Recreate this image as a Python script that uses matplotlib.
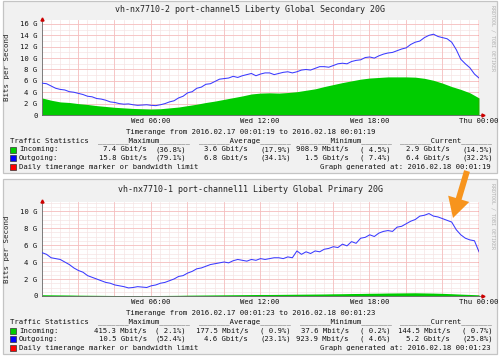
import numpy as np
import matplotlib
matplotlib.use("Agg")
import matplotlib.pyplot as plt
from matplotlib.patches import Rectangle, FancyArrow

# ---------------- data (Gbit/s, measured from 00:01:19) ----------------
hours_half = np.arange(0, 24.01, 0.5)      # incoming samples
hours_quarter = np.arange(0, 24.01, 0.25)  # outgoing samples

sec_in = [3.0, 2.6, 2.3, 2.2, 2.0, 1.85, 1.65, 1.5, 1.35, 1.25, 1.15, 1.1, 1.05,
          1.1, 1.25, 1.4, 1.65, 1.9, 2.2, 2.45, 2.75, 3.05, 3.35, 3.7, 3.85, 3.9,
          3.85, 3.95, 4.1, 4.35, 4.6, 5.0, 5.35, 5.7, 6.0, 6.3, 6.5, 6.6, 6.7, 6.7,
          6.7, 6.65, 6.45, 6.1, 5.6, 5.0, 4.5, 3.9, 3.0]
sec_out = [5.6, 5.5, 5.1, 4.7,  4.5, 4.4, 4.1, 4.0,  3.8, 3.6, 3.3, 3.2,
           2.9, 2.8, 2.6, 2.3,  2.2, 2.0, 1.9, 1.95, 1.8, 1.7, 1.75, 1.8,
           1.7, 1.65, 1.8, 2.0, 2.3, 2.5, 3.0, 3.3,  3.9, 4.1, 4.7, 4.9,
           5.4, 5.5, 5.9, 6.3,  6.4, 6.5, 6.8, 6.6,  6.9, 7.1, 7.3, 6.9,
           7.2, 7.4, 7.4, 7.1,  7.3, 7.5, 7.6, 7.4,  7.6, 7.9, 8.0, 7.9,
           8.2, 8.5, 8.5, 8.4,  8.7, 9.0, 9.1, 9.0,  9.4, 9.6, 9.7, 10.1,
           10.2, 10.0, 10.4, 10.7, 10.9, 11.0, 11.3, 11.6, 11.8, 12.4, 12.8, 13.0,
           13.6, 14.0, 14.2, 13.8, 13.6, 13.4, 12.8, 11.5, 9.8, 9.0, 8.3, 7.2,
           6.5]
pri_in = [0.15, 0.14, 0.13, 0.12, 0.10, 0.09, 0.08, 0.07, 0.06, 0.05, 0.05, 0.05,
          0.05, 0.06, 0.07, 0.08, 0.10, 0.11, 0.12, 0.13, 0.14, 0.15, 0.16, 0.17,
          0.18, 0.18, 0.19, 0.20, 0.21, 0.22, 0.23, 0.24, 0.26, 0.27, 0.29, 0.30,
          0.32, 0.33, 0.35, 0.36, 0.37, 0.38, 0.36, 0.34, 0.31, 0.27, 0.22, 0.18, 0.14]
pri_out = [5.1, 4.9, 4.5, 4.4,  4.3, 4.0, 3.7, 3.3,  3.0, 2.8, 2.4, 2.2,
           2.0, 1.8, 1.6, 1.5,  1.3, 1.2, 1.1, 0.95, 1.0, 1.1, 1.05, 1.0,
           1.2, 1.3, 1.5, 1.6,  1.8, 2.0, 2.3, 2.4,  2.7, 2.9, 3.2, 3.3,
           3.5, 3.7, 3.8, 3.9,  4.0, 3.9, 4.15, 4.3, 4.2, 4.1, 4.3, 4.2,
           4.4, 4.3, 4.4, 4.5,  4.5, 4.4, 4.6, 4.5,  5.3, 4.9, 5.2, 5.0,
           5.3, 5.2, 5.5, 5.6,  5.8, 5.7, 6.1, 5.9,  6.4, 6.2, 6.8, 6.9,
           7.2, 7.0, 7.4, 7.6,  7.7, 7.6, 8.1, 8.2,  8.5, 8.8, 9.0, 9.4,
           9.5, 9.7, 9.4, 9.3,  9.1, 8.9, 8.7, 7.8,  7.2, 6.8, 6.6, 6.5,
           5.2]

xtick_labels = ["Wed 06:00", "Wed 12:00", "Wed 18:00", "Thu 00:00"]
start_offset = 1/60 + 19/3600  # data start 00:01:19

panels = [
    dict(title="vh-nx7710-2 port-channel5 Liberty Global Secondary 20G",
         inc=sec_in, out=sec_out, ymax=16.7, ystep=2, yminor=1,
         box=(1, 173), title_y=10, plot=(20, 115),
         timerange="Timerange from 2016.02.17 00:01:19 to 2016.02.18 00:01:19",
         generated="Graph generated at: 2016.02.18 00:01:19",
         inc_stats=["7.4 Gbit/s", "(36.8%)", "3.6 Gbit/s", "(17.9%)",
                    "908.9 Mbit/s", "( 4.5%)", "2.9 Gbit/s", "(14.5%)"],
         out_stats=["15.8 Gbit/s", "(79.1%)", "6.8 Gbit/s", "(34.1%)",
                    "1.5 Gbit/s", "( 7.4%)", "6.4 Gbit/s", "(32.2%)"]),
    dict(title="vh-nx7710-1 port-channel11 Liberty Global Primary 20G",
         inc=pri_in, out=pri_out, ymax=11.06, ystep=2, yminor=0.5,
         box=(179, 354), title_y=190, plot=(202, 296),
         timerange="Timerange from 2016.02.17 00:01:23 to 2016.02.18 00:01:23",
         generated="Graph generated at: 2016.02.18 00:01:23",
         inc_stats=["415.3 Mbit/s", "( 2.1%)", "177.5 Mbit/s", "( 0.9%)",
                    "37.6 Mbit/s", "( 0.2%)", "144.5 Mbit/s", "( 0.7%)"],
         out_stats=["10.5 Gbit/s", "(52.4%)", "4.6 Gbit/s", "(23.1%)",
                    "923.9 Mbit/s", "( 4.6%)", "5.2 Gbit/s", "(25.8%)"]),
]

W, H = 500, 357
MONO = "DejaVu Sans Mono"
FS = 5.2
fig = plt.figure(figsize=(W/100, H/100), dpi=100)
fig.patch.set_facecolor("white")

bg = fig.add_axes([0, 0, 1, 1], zorder=0)
bg.set_xlim(0, W); bg.set_ylim(H, 0); bg.axis("off")

PL, PR = 42, 479
cols_right = [147, 186, 248, 291, 349, 391, 450, 493]
headers = [("Maximum", 98), ("Average", 199), ("Minimum", 300), ("Current", 400)]

for p in panels:
    bt, bb = p["box"]
    bg.add_patch(Rectangle((3, bt), 494, bb - bt, facecolor="#f1f1f1",
                           edgecolor="#c4c4c4", lw=0.9))
    bg.text(250, p["title_y"], p["title"], family=MONO, fontsize=6.0,
            ha="center", va="center", color="#222222")
    pt, pb = p["plot"]
    bg.text(7, (pt + pb) / 2, "Bits per Second", family=MONO, fontsize=5.3,
            rotation=90, ha="center", va="center", color="#222222")
    bg.text(493, bt + 37, "RRDTOOL / TOBI OETIKER", family=MONO, fontsize=3.6,
            rotation=270, ha="center", va="center", color="#b0b0b0")

    # stats block
    bg.text(251, pb + 17, p["timerange"], family=MONO, fontsize=FS,
            ha="center", va="center", color="#111111")
    y = pb + 25.8
    bg.text(10, y, "Traffic Statistics", family=MONO, fontsize=FS,
            ha="left", va="center", color="#111111")
    for name, x0 in headers:
        bg.text(x0, y, "_______" + name + "_______", family=MONO, fontsize=FS,
                ha="left", va="center", color="#111111")
    for row, (label, color, stats) in enumerate([
            ("Incoming:", "#00cc00", p["inc_stats"]),
            ("Outgoing:", "#0000ff", p["out_stats"]),
            ("Daily timerange marker or bandwidth limit", "#ff0000", None)]):
        y = pb + 34.5 + row * 8.7
        bg.add_patch(Rectangle((10, y - 3), 6, 6, facecolor=color,
                               edgecolor="#333333", lw=0.5))
        bg.text(19, y, label, family=MONO, fontsize=FS, ha="left",
                va="center", color="#111111")
        if stats:
            for s, xr in zip(stats, cols_right):
                bg.text(xr, y, s, family=MONO, fontsize=FS, ha="right",
                        va="center", color="#111111")
        else:
            bg.text(491, y, p["generated"], family=MONO, fontsize=FS,
                    ha="right", va="center", color="#111111")

    # plot area
    ax = fig.add_axes([PL / W, 1 - pb / H, (PR - PL) / W, (pb - pt) / H], zorder=1)
    ax.set_facecolor("white")
    ax.set_xlim(0, 24)
    ax.set_ylim(0, p["ymax"])
    for v in np.arange(0, 24.01, 0.5) - start_offset:
        if v > 0:
            ax.axvline(v, color="#f5e4e4", lw=0.5, zorder=0)
    for v in np.arange(2, 24.01, 2) - start_offset:
        ax.axvline(v, color="#f6bcbc", lw=0.55, zorder=0.5)
    for v in np.arange(p["yminor"], p["ymax"], p["yminor"]):
        ax.axhline(v, color="#f5e4e4", lw=0.5, zorder=0)
    for v in np.arange(p["ystep"], p["ymax"], p["ystep"]):
        ax.axhline(v, color="#f6bcbc", lw=0.55, zorder=0.5)

    ax.fill_between(hours_half, 0, p["inc"], color="#00cc00", lw=0, zorder=2)
    ax.plot(hours_quarter, p["out"], color="#3a3aff", lw=0.75, zorder=3)
    ax.axvline(24 - start_offset, color="#ff0000", lw=0.9, zorder=4)

    yt = np.arange(0, p["ymax"], p["ystep"])
    ax.set_yticks(yt, ["0" if v == 0 else f"{int(v)} G" for v in yt])
    ax.set_xticks(np.arange(6, 24.01, 6) - start_offset, xtick_labels)
    ax.tick_params(length=0, labelsize=FS, colors="#111111", pad=3.2)
    for lab in ax.get_xticklabels() + ax.get_yticklabels():
        lab.set_family(MONO)
    ax.tick_params(axis="x", pad=2.2)
    for s in ["top", "right"]:
        ax.spines[s].set_visible(False)
    for s in ["left", "bottom"]:
        ax.spines[s].set_color("#666666")
        ax.spines[s].set_linewidth(0.6)

# overlay for arrows
ov = fig.add_axes([0, 0, 1, 1], zorder=5)
ov.set_xlim(0, W); ov.set_ylim(H, 0); ov.axis("off"); ov.patch.set_alpha(0)
for p in panels:
    pt, pb = p["plot"]
    ov.plot([PL], [pt - 1.5], marker="^", ms=2.2, color="#cc0000", mec="#cc0000")
    ov.plot([PR, PR + 3], [pb, pb], color="#666666", lw=0.6)
    ov.plot([PR + 3.5], [pb], marker=">", ms=2.2, color="#cc0000", mec="#cc0000")

ov.add_patch(FancyArrow(467, 171, -14, 47, width=6, head_width=22,
                        head_length=20, length_includes_head=True,
                        color="#f7941d", lw=0))

fig.savefig("out.png", dpi=100)
